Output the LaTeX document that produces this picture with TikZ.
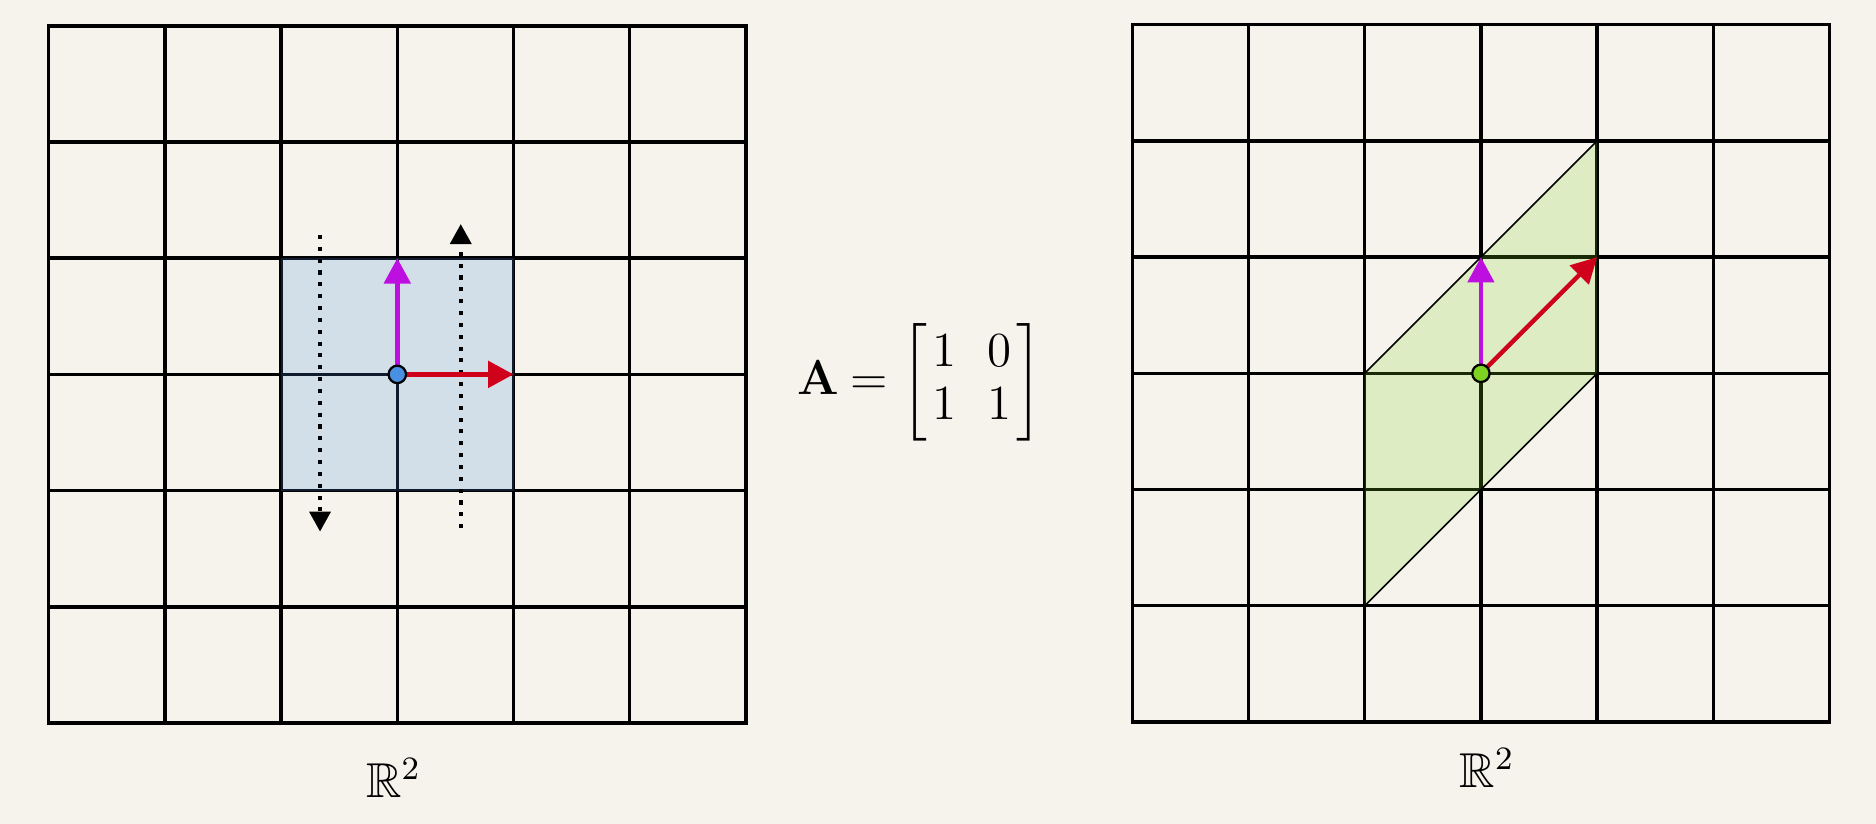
\documentclass[tikz,border=0pt]{standalone}
\usepackage{amsmath,amssymb}
\usetikzlibrary{arrows.meta}
\definecolor{bg}{RGB}{245,243,235}
\definecolor{vpurple}{HTML}{BD10E0}
\definecolor{vred}{HTML}{D0021B}
\definecolor{dblue}{HTML}{4A90E2}
\definecolor{dgreen}{HTML}{7ED321}
\tikzset{
  gridline/.style={line width=0.85pt, black},
  vecarrow/.style={line width=1.1pt, -{Triangle[length=6.2pt,width=6.4pt]}},
  dotarrow/.style={line width=1pt, dash pattern=on 1pt off 1.9pt, -{Triangle[length=4.9pt,width=5.1pt]}},
  origindot/.style={circle, draw=black, line width=0.55pt, minimum size=0.15cm, inner sep=0pt},
  shade/.style={opacity=0.2},
  edgeline/.style={line width=0.4pt, black},
  label/.style={anchor=base, font=\large}
}
\begin{document}
\begin{tikzpicture}[x=1cm,y=1cm]
\fill[bg] (0,0) rectangle (16.144,7.091);
\useasboundingbox (0,0) rectangle (16.144,7.091);

% left grid
\begin{scope}[shift={(0.419,0.869)}]
  \draw[gridline] (0,0) grid (6,6);
  \draw[gridline] (0,0) rectangle (6,6);
  \fill[dblue, shade] (2,2) rectangle (4,4);
  \coordinate (o1) at (3,3);
  \coordinate (e1) at (4,3);
  \coordinate (f1) at (3,4);
  \coordinate (ds) at (2.335,4.2);
  \coordinate (de) at (2.335,1.647);
  \coordinate (us) at (3.546,1.676);
  \coordinate (ue) at (3.546,4.294);
  \draw[dotarrow] (ds) -- (de);
  \draw[dotarrow] (us) -- (ue);
  \draw[vecarrow, vpurple] (o1) -- (f1);
  \draw[vecarrow, vred] (o1) -- (e1);
  \node[origindot, fill=dblue] (dot1) at (o1) {};
\end{scope}

% right grid
\begin{scope}[shift={(9.744,0.878)}]
  \draw[gridline] (0,0) grid (6,6);
  \draw[gridline] (0,0) rectangle (6,6);
  \coordinate (p1) at (2,1);
  \coordinate (p2) at (4,3);
  \coordinate (p3) at (4,5);
  \coordinate (p4) at (2,3);
  \fill[dgreen, shade] (p1) -- (p2) -- (p3) -- (p4) -- cycle;
  \draw[edgeline] (p1) -- (p2);
  \draw[edgeline] (p4) -- (p3);
  \coordinate (o2) at (3,3);
  \coordinate (e2) at (4,4);
  \coordinate (f2) at (3,4);
  \draw[vecarrow, vpurple] (o2) -- (f2);
  \draw[vecarrow, vred] (o2) -- (e2);
  \node[origindot, fill=dgreen] (dot2) at (o2) {};
\end{scope}

\node[anchor=east, inner sep=0pt] (mat) at (8.98,3.80) {\large\setlength{\arraycolsep}{3.9pt}\renewcommand{\arraystretch}{0.93}%
  $\mathbf{A}\mskip-1mu = \mskip0mu\left[\hspace{1.2pt}\begin{matrix}1 & 0\\ 1 & 1\end{matrix}\hspace{1.2pt}\right]$};
\node[label] (lab1) at (3.388,0.23) {$\mathbb{R}^2$};
\node[label] (lab2) at (12.797,0.316) {$\mathbb{R}^2$};
\end{tikzpicture}
\end{document}
